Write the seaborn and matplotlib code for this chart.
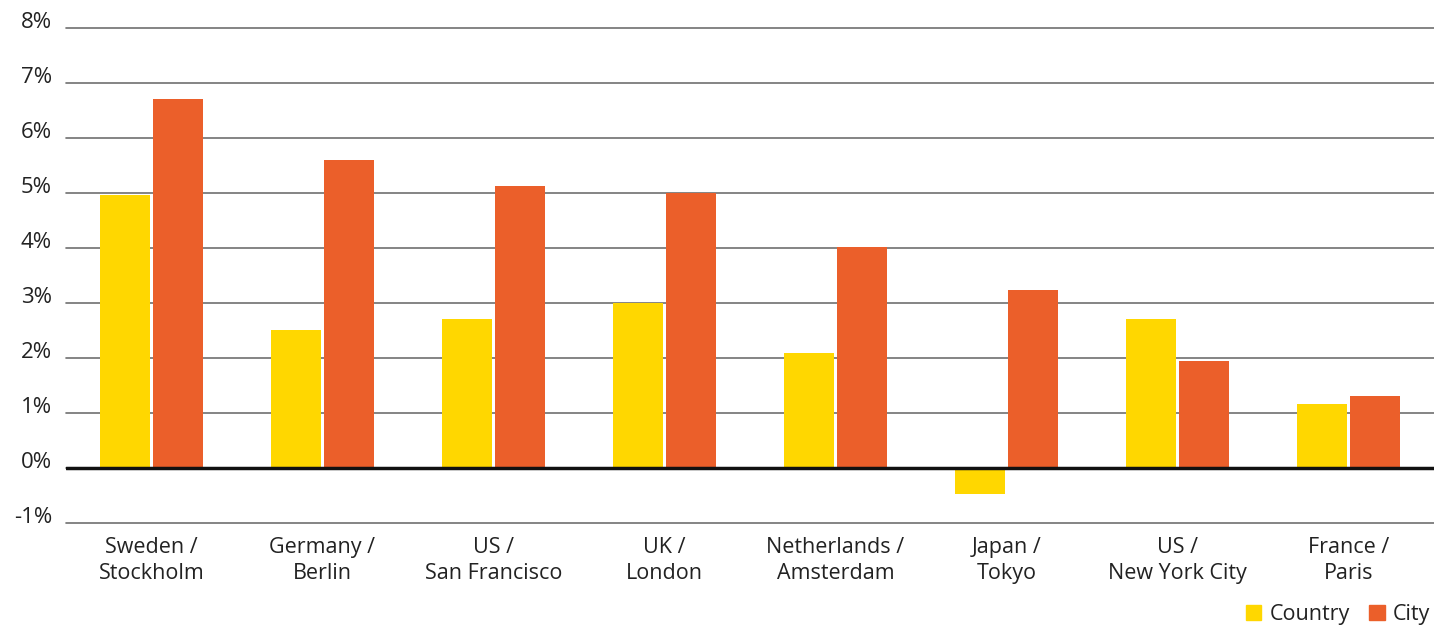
"""
Country vs city growth bar chart
"""
import pandas as pd
import matplotlib.pyplot as plt
import seaborn as sns

places = ['Sweden /\nStockholm', 'Germany /\nBerlin', 'US /\nSan Francisco', 'UK /\nLondon',
          'Netherlands /\nAmsterdam', 'Japan /\nTokyo', 'US /\nNew York City', 'France /\nParis']
country = [4.96, 2.51, 2.71, 3.0, 2.09, -0.47, 2.71, 1.16]
city = [6.71, 5.6, 5.13, 5.0, 4.02, 3.24, 1.95, 1.31]
yticks = [-1, 0, 1, 2, 3, 4, 5, 6, 7, 8]

colors = {'Country': '#FFD700', 'City': '#EB5F2A'}


def main():
    df = pd.DataFrame({'Place': places * 2,
                       'Level': ['Country'] * len(places) + ['City'] * len(places),
                       'Value': country + city})

    sns.set_style('white')
    plt.rcParams['font.family'] = ['Open Sans', 'DejaVu Sans']

    fig = plt.figure(figsize=(14.34, 6.29), dpi=100)
    ax = fig.add_axes([0.046, 0.1685, 0.954, 0.787])

    sns.barplot(data=df, x='Place', y='Value', hue='Level', palette=colors,
                width=0.62, gap=0.05, saturation=1, linewidth=0,
                ax=ax, legend=False, zorder=3)

    # grid
    for v in yticks:
        ax.axhline(v, color='#707070', lw=1.2, zorder=1, clip_on=False)
    ax.axhline(0, color='#111111', lw=2.5, zorder=4)

    ax.set_ylim(-1, 8)
    ax.set_xlim(-0.5, len(places) - 0.5)
    ax.set_yticks(yticks)
    ax.set_yticklabels([f'{v}%' for v in yticks], fontsize=16, color='#222222')
    for lab in ax.get_yticklabels():
        lab.set_verticalalignment('baseline')
    ax.set_xticks(range(len(places)))
    ax.set_xticklabels(places, fontsize=15.5, color='#222222', linespacing=1.3)
    ax.tick_params(axis='y', length=0, pad=10)
    ax.tick_params(axis='x', length=0, pad=10)
    ax.set_xlabel('')
    ax.set_ylabel('')
    sns.despine(ax=ax, left=True, bottom=True)

    handles = [plt.Rectangle((0, 0), 1, 1, color=colors[k]) for k in colors]
    fig.legend(handles, list(colors), loc='lower right', bbox_to_anchor=(1.011, -0.024),
               ncol=2, frameon=False, fontsize=15.5, handlelength=0.7, handleheight=0.7,
               handletextpad=0.4, columnspacing=0.9, labelcolor='#222222')

    plt.savefig('out.png', dpi=100)
    plt.close()


if __name__ == "__main__":
    main()
